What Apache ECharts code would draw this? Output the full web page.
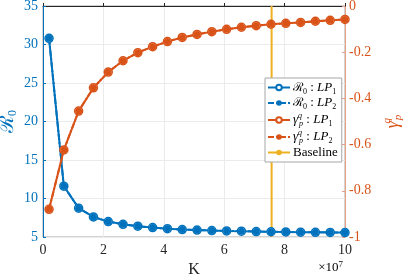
<!DOCTYPE html>
<html><head><meta charset="utf-8">
<script src="https://cdn.jsdelivr.net/npm/echarts@6/dist/echarts.min.js"></script>
<style>html,body{margin:0;padding:0;background:#fff}#c{width:403px;height:275px}</style>
</head><body><div id="c"></div>
<script>
// K values (units of 1e7)
const K = [0.2,0.69,1.18,1.67,2.16,2.65,3.14,3.63,4.12,4.61,5.1,5.59,6.08,6.57,7.06,7.55,8.04,8.53,9.02,9.51,10];
const R0 = [30.8,11.6,8.75,7.6,7.0,6.65,6.4,6.22,6.08,5.97,5.9,5.84,5.79,5.75,5.71,5.68,5.66,5.63,5.61,5.6,5.58];
const GAMMA = [-0.88,-0.623,-0.455,-0.354,-0.286,-0.237,-0.202,-0.176,-0.154,-0.136,-0.123,-0.111,-0.101,-0.092,-0.085,-0.079,-0.075,-0.071,-0.066,-0.062,-0.058];
const BASELINE = 7.57;
const xTicks = [0,2,4,6,8,10];
const leftTicks = [5,10,15,20,25,30,35];
const rightTicks = [-1,-0.8,-0.6,-0.4,-0.2,0];

const BLUE = '#0072BD', ORANGE = '#D95319', YEL = '#EDB120';
const SERIF = 'Liberation Serif';
const pairs = a => K.map((k,i)=>[k,a[i]]);

const richBase = {
  t:{fontFamily:SERIF,fontSize:13,color:'#000',lineHeight:16},
  it:{fontFamily:SERIF,fontStyle:'italic',fontSize:13,color:'#000',lineHeight:16},
  m:{fontFamily:'DejaVu Serif',fontSize:12,color:'#000',lineHeight:16},
  sub:{fontFamily:SERIF,fontSize:8,color:'#000',verticalAlign:'bottom',lineHeight:9},
  subi:{fontFamily:SERIF,fontStyle:'italic',fontSize:8,color:'#000',verticalAlign:'bottom',lineHeight:9},
  supi:{fontFamily:SERIF,fontStyle:'italic',fontSize:8,color:'#000',verticalAlign:'top',lineHeight:9,width:1}
};
const legendText = {
  R1:'{m|ℛ}{sub|0}{t| : }{it|LP}{sub|1}',
  R2:'{m|ℛ}{sub|0}{t| : }{it|LP}{sub|2}',
  G1:'{it|γ}{supi|q}{subi|p}{t| : }{it|LP}{sub|1}',
  G2:'{it|γ}{supi|q}{subi|p}{t| : }{it|LP}{sub|2}',
  Baseline:'{t|Baseline}'
};

const chart = echarts.init(document.getElementById('c'), null, {renderer:'canvas'});
chart.setOption({
  animation:false,
  grid:{left:43,right:58,top:6,bottom:38,outerBoundsMode:'none',containLabel:false,
    show:true,borderColor:'#a6a6a6',borderWidth:1,backgroundColor:'transparent'},
  xAxis:{type:'value',min:0,max:10,interval:2,
    name:'K',nameLocation:'middle',nameGap:22,
    nameTextStyle:{fontFamily:SERIF,fontSize:16,color:'#262626'},
    axisLine:{lineStyle:{color:'#262626',width:1}},
    axisTick:{inside:true,length:3,lineStyle:{color:'#262626'}},
    axisLabel:{fontFamily:SERIF,fontSize:14,color:'#262626',margin:6,formatter:v=>xTicks.includes(v)?String(v):''},
    splitLine:{show:true,lineStyle:{color:'#ebebeb',width:1}}
  },
  yAxis:[
    {type:'value',min:5,max:35,interval:5,position:'left',
      name:'{m|ℛ}{s|0}',nameLocation:'middle',nameGap:24,nameRotate:90,nameMoveOverlap:false,
      nameTextStyle:{rich:{m:{fontFamily:'DejaVu Serif',fontSize:20,color:BLUE,lineHeight:22},s:{fontFamily:SERIF,fontSize:12,color:BLUE,verticalAlign:'bottom',lineHeight:12}}},
      axisLine:{show:true,lineStyle:{color:BLUE,width:1}},
      axisTick:{show:true,inside:true,length:3,lineStyle:{color:BLUE}},
      axisLabel:{fontFamily:SERIF,fontSize:14,color:BLUE,margin:5,formatter:v=>leftTicks.includes(v)?String(v):''},
      splitLine:{show:true,lineStyle:{color:'#ebebeb',width:1}}
    },
    {type:'value',min:-1,max:0,interval:0.2,position:'right',
      name:'{g|γ}{q|q}{p|p}',nameLocation:'middle',nameGap:36,nameRotate:90,
      nameTextStyle:{rich:{g:{fontFamily:SERIF,fontStyle:'italic',fontSize:18,color:ORANGE,lineHeight:22},
        q:{fontFamily:SERIF,fontStyle:'italic',fontSize:11,color:ORANGE,verticalAlign:'top',lineHeight:12,width:1},
        p:{fontFamily:SERIF,fontStyle:'italic',fontSize:11,color:ORANGE,verticalAlign:'bottom',lineHeight:12}}},
      axisLine:{show:true,lineStyle:{color:'#e8a088',width:1}},
      axisTick:{show:true,inside:true,length:3,lineStyle:{color:'#e8a088'}},
      axisLabel:{fontFamily:SERIF,fontSize:14,color:ORANGE,margin:4,
        formatter:v=>{const r=Math.round(v*10)/10; return r===0?'0':(r===-1?'-1':r.toFixed(1));}},
      splitLine:{show:false}
    }
  ],
  legend:{orient:'vertical',left:265,top:78,padding:[3,4,3,2],itemGap:1,itemWidth:22,itemHeight:7,
    backgroundColor:'#fff',borderColor:'#a6a6a6',borderWidth:1,borderRadius:0,
    data:['R1','R2','G1','G2','Baseline'],
    formatter:n=>legendText[n],
    textStyle:{rich:richBase,padding:[0,0,0,-2]}
  },
  graphic:[{type:'text',right:60,top:260,style:{text:'{t|×10}{s|7}',rich:{
    t:{fontFamily:SERIF,fontSize:13,color:'#262626',lineHeight:16},
    s:{fontFamily:SERIF,fontSize:9,color:'#262626',verticalAlign:'top',lineHeight:9}}}}],
  series:[
    {name:'R1',type:'line',yAxisIndex:0,data:pairs(R0),color:BLUE,
      symbol:'circle',symbolSize:8,itemStyle:{color:'#fff',borderColor:BLUE,borderWidth:1.5},
      lineStyle:{color:BLUE,width:2}},
    {name:'R2',type:'line',yAxisIndex:0,data:pairs(R0),color:BLUE,
      symbol:'circle',symbolSize:7,itemStyle:{color:BLUE},
      lineStyle:{color:BLUE,width:2,type:[6,2,2,2]}},
    {name:'G1',type:'line',yAxisIndex:1,data:pairs(GAMMA),color:ORANGE,
      symbol:'circle',symbolSize:8,itemStyle:{color:'#fff',borderColor:ORANGE,borderWidth:1.5},
      lineStyle:{color:ORANGE,width:2}},
    {name:'G2',type:'line',yAxisIndex:1,data:pairs(GAMMA),color:ORANGE,
      symbol:'circle',symbolSize:7,itemStyle:{color:ORANGE},
      lineStyle:{color:ORANGE,width:2,type:[6,2,2,2]}},
    {name:'Baseline',type:'line',yAxisIndex:0,data:[[BASELINE,5],[BASELINE,35]],color:YEL,
      symbol:'none',lineStyle:{color:YEL,width:2},z:1}
  ]
});
</script></body></html>
